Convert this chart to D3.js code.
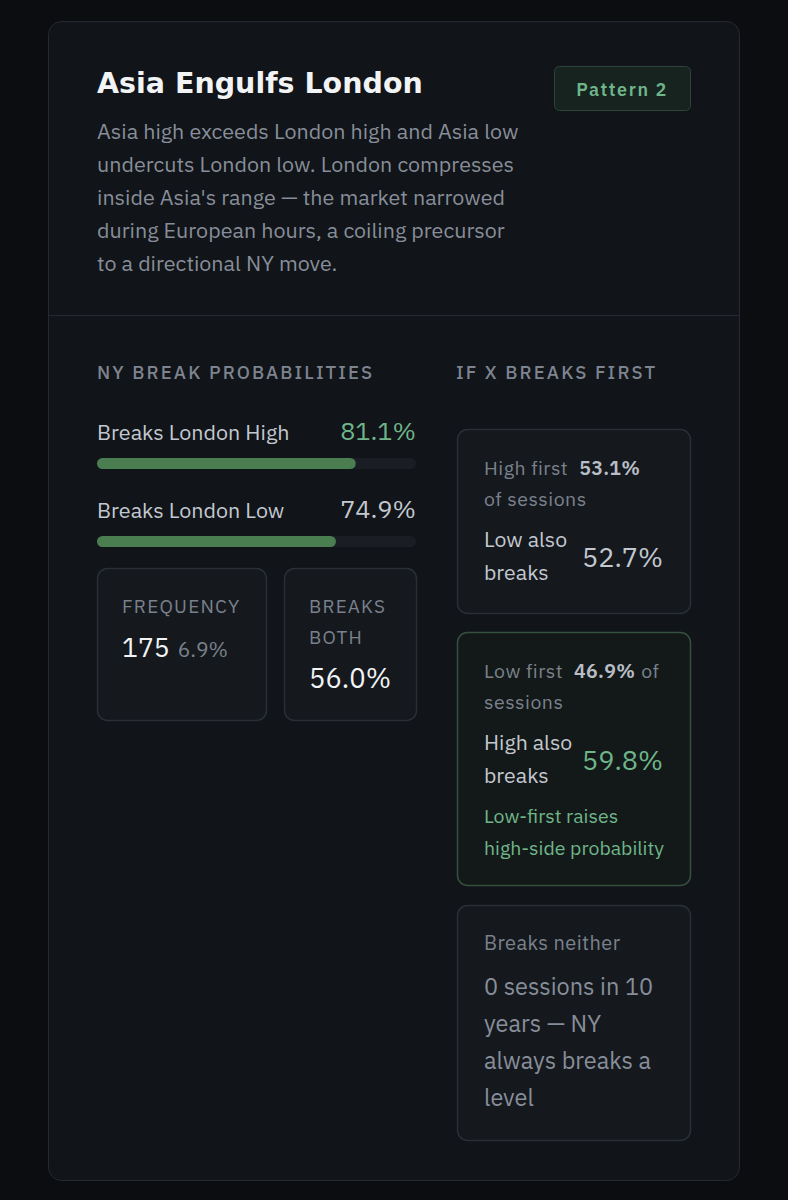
<!DOCTYPE html>
<html>
<head>
<meta charset="utf-8">
<script src="https://cdn.jsdelivr.net/npm/d3@7"></script>
<style>
  html, body { margin: 0; padding: 0; background: #0b0d10; }
  svg { display: block; }
</style>
</head>
<body>
<div id="chart"></div>
<script>
// pattern card data
var title = "Asia Engulfs London";
var badge = "Pattern 2";
var descLines = [
  "Asia high exceeds London high and Asia low",
  "undercuts London low. London compresses",
  "inside Asia's range \u2014 the market narrowed",
  "during European hours, a coiling precursor",
  "to a directional NY move."
];

var breakLabels = ["Breaks London High", "Breaks London Low"];
var breakValues = [81.1, 74.9];
var breakHighlight = [true, false];

var frequencyCount = 175;
var frequencyPct = 6.9;
var breaksBoth = 56.0;

var firstLabels = ["High first", "Low first"];
var firstShares = [53.1, 46.9];
var alsoLabels = [["Low also", "breaks"], ["High also", "breaks"]];
var alsoValues = [52.7, 59.8];
var noteLines = ["Low-first raises", "high-side probability"];

var neitherLabel = "Breaks neither";
var neitherLines = ["0 sessions in 10", "years \u2014 NY", "always breaks a", "level"];

var W = 788, H = 1200;
var body = "'IBM Plex Sans', 'Noto Sans', sans-serif";
var head = "'DejaVu Sans', sans-serif";

var svg = d3.select("#chart").append("svg")
    .attr("width", W)
    .attr("height", H);

svg.append("rect").attr("width", W).attr("height", H).attr("fill", "#0b0d10");

// card
svg.append("rect")
    .attr("x", 48.5).attr("y", 21.5)
    .attr("width", 691).attr("height", 1159)
    .attr("rx", 13)
    .attr("fill", "#111418")
    .attr("stroke", "#262a30");

svg.append("text")
    .attr("x", 97).attr("y", 93)
    .attr("font-family", head).attr("font-weight", 700)
    .attr("font-size", 28.5).attr("fill", "#f2f3f5")
    .text(title);

// badge
svg.append("rect")
    .attr("x", 554.5).attr("y", 66.5)
    .attr("width", 136).attr("height", 44)
    .attr("rx", 5)
    .attr("fill", "#17231f")
    .attr("stroke", "#2d4438");
svg.append("text")
    .attr("x", 622).attr("y", 96)
    .attr("text-anchor", "middle")
    .attr("font-family", body).attr("font-weight", 600)
    .attr("font-size", 18).attr("letter-spacing", 1.6)
    .attr("fill", "#6fb58a")
    .text(badge);

svg.append("g").selectAll("text")
    .data(descLines)
    .enter().append("text")
    .attr("x", 97)
    .attr("y", function(d, i) { return 139 + i * 33; })
    .attr("font-family", body)
    .attr("font-size", 21.5)
    .attr("fill", "#878e99")
    .text(function(d) { return d; });

svg.append("line")
    .attr("x1", 49).attr("x2", 739)
    .attr("y1", 315.5).attr("y2", 315.5)
    .attr("stroke", "#262a30");

// section headers
[["NY BREAK PROBABILITIES", 97], ["IF X BREAKS FIRST", 456]].forEach(function(h) {
    svg.append("text")
        .attr("x", h[1]).attr("y", 379)
        .attr("font-family", body).attr("font-weight", 500)
        .attr("font-size", 18.5).attr("letter-spacing", 2.1)
        .attr("fill", "#7d8490")
        .text(h[0]);
});

// break probability bars
var x = d3.scaleLinear().domain([0, 100]).range([0, 319]);

var rows = svg.append("g").attr("transform", "translate(97,0)")
    .selectAll("g")
    .data(breakValues)
    .enter().append("g")
    .attr("transform", function(d, i) { return "translate(0," + (440 + i * 78) + ")"; });

rows.append("text")
    .attr("font-family", body).attr("font-size", 21.5)
    .attr("fill", "#c3c8d0")
    .text(function(d, i) { return breakLabels[i]; });

rows.append("text")
    .attr("x", x(100))
    .attr("text-anchor", "end")
    .attr("font-family", body).attr("font-size", 25.3)
    .attr("fill", function(d, i) { return breakHighlight[i] ? "#6fb58a" : "#c3c8d0"; })
    .text(function(d) { return d.toFixed(1) + "%"; });

rows.append("rect")
    .attr("y", 18).attr("height", 11).attr("rx", 5.5)
    .attr("width", x(100))
    .attr("fill", "#1a1e24");

rows.append("rect")
    .attr("y", 18).attr("height", 11).attr("rx", 5.5)
    .attr("width", function(d) { return x(d); })
    .attr("fill", "#4a7d50");

// stat boxes
function box(x0, y0, w, h, stroke, fill) {
    svg.append("rect")
        .attr("x", x0 + 0.5).attr("y", y0 + 0.5)
        .attr("width", w).attr("height", h)
        .attr("rx", 10)
        .attr("fill", fill || "#15191e")
        .attr("stroke", stroke || "#2a2f36")
        .attr("stroke-width", 1.5);
}

box(97, 568, 169, 152);
box(284, 568, 132, 152);

svg.append("text")
    .attr("x", 122).attr("y", 613)
    .attr("font-family", body).attr("font-size", 19).attr("letter-spacing", 1.2)
    .attr("fill", "#7a818c")
    .text("FREQUENCY");
var ft = svg.append("text")
    .attr("x", 122).attr("y", 657)
    .attr("font-family", body);
ft.append("tspan").attr("font-size", 26.5).attr("fill", "#f2f3f5").text(frequencyCount);
ft.append("tspan").attr("dx", 8).attr("font-size", 21).attr("fill", "#7a818c").text(frequencyPct.toFixed(1) + "%");

svg.append("g").selectAll("text")
    .data(["BREAKS", "BOTH"])
    .enter().append("text")
    .attr("x", 309)
    .attr("y", function(d, i) { return 613 + i * 31; })
    .attr("font-family", body).attr("font-size", 18.8).attr("letter-spacing", 1.2)
    .attr("fill", "#7a818c")
    .text(function(d) { return d; });
svg.append("text")
    .attr("x", 309).attr("y", 688)
    .attr("font-family", body).attr("font-size", 27.4)
    .attr("fill", "#f2f3f5")
    .text(breaksBoth.toFixed(1) + "%");

// if x breaks first
var firstBoxes = [
    {y: 429, h: 184, stroke: "#2a2f36", fill: "#15191e", color: "#c3c8d0", tail: ""},
    {y: 632, h: 253, stroke: "#35503f", fill: "#131918", color: "#6fb58a", tail: "of"}
];

firstBoxes.forEach(function(b, i) {
    box(457, b.y, 233, b.h, b.stroke, b.fill);
    var t = svg.append("text")
        .attr("x", 484).attr("y", b.y + 46)
        .attr("font-family", body).attr("font-size", 19.5)
        .attr("letter-spacing", 0.5)
        .attr("fill", "#7a818c");
    t.append("tspan").text(firstLabels[i]);
    t.append("tspan").attr("dx", 11).attr("font-weight", 600).attr("letter-spacing", 0.3)
        .attr("fill", "#b8bdc6").text(firstShares[i].toFixed(1) + "%");
    if (b.tail) t.append("tspan").attr("dx", 6).text(b.tail);
    svg.append("text")
        .attr("x", 484).attr("y", b.y + 77)
        .attr("font-family", body).attr("font-size", 19.5)
        .attr("letter-spacing", 0.5)
        .attr("fill", "#7a818c")
        .text(i === 0 ? "of sessions" : "sessions");

    alsoLabels[i].forEach(function(l, j) {
        svg.append("text")
            .attr("x", 484).attr("y", b.y + 118 + j * 33)
            .attr("font-family", body).attr("font-size", 21.3)
            .attr("fill", "#c3c8d0")
            .text(l);
    });
    svg.append("text")
        .attr("x", 663).attr("y", b.y + 138)
        .attr("text-anchor", "end")
        .attr("font-family", body).attr("font-size", 27)
        .attr("fill", b.color)
        .text(alsoValues[i].toFixed(1) + "%");
});

svg.append("g").selectAll("text")
    .data(noteLines)
    .enter().append("text")
    .attr("x", 484)
    .attr("y", function(d, i) { return 823 + i * 32; })
    .attr("font-family", body).attr("font-size", 19.5)
    .attr("fill", "#6fb58a")
    .text(function(d) { return d; });

box(457, 905, 233, 235);
svg.append("text")
    .attr("x", 484).attr("y", 950)
    .attr("font-family", body).attr("font-size", 20)
    .attr("letter-spacing", 0.4)
    .attr("fill", "#7a818c")
    .text(neitherLabel);
svg.append("g").selectAll("text")
    .data(neitherLines)
    .enter().append("text")
    .attr("x", 484)
    .attr("y", function(d, i) { return 995 + i * 37; })
    .attr("font-family", body).attr("font-size", 23.5)
    .attr("fill", "#878e99")
    .text(function(d) { return d; });
</script>
</body>
</html>
